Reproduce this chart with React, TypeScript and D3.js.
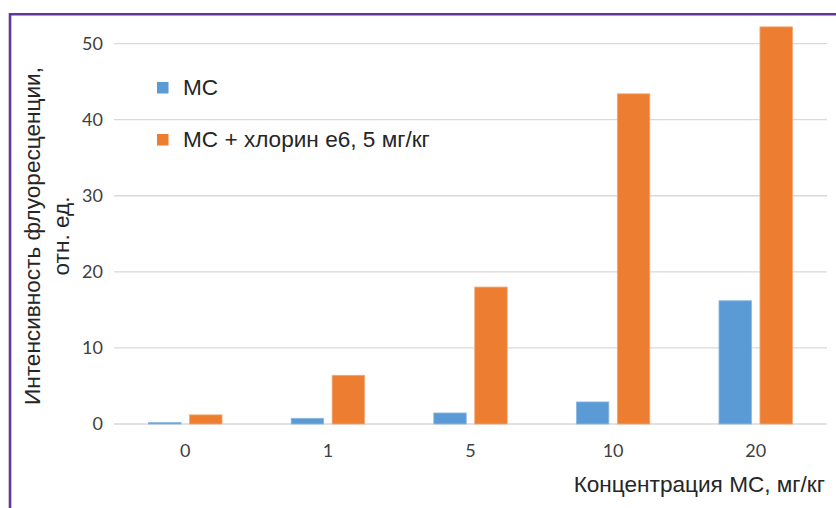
import React from "react";
import * as d3 from "d3";

// Fluorescence intensity by MC concentration
const categories = ["0", "1", "5", "10", "20"];
const seriesNames = ["МС", "МС + хлорин е6, 5 мг/кг"];
const mcValues = [0.2, 0.75, 1.45, 2.9, 16.2];
const mcChlorinValues = [1.2, 6.4, 18.0, 43.4, 52.2];
const yTicks = [0, 10, 20, 30, 40, 50];
const colors = ["#5B9BD5", "#ED7D31"];
const strokes = ["#8DB9E3", "#F4A772"];

const W = 836;
const H = 508;
const plotLeft = 114;
const plotRight = 827;
const yZero = 424;
const yTop = 43.6;

export default function App() {
  const x = d3.scaleBand<string>().domain(categories).range([plotLeft, plotRight]).padding(0);
  const groupW = x.step() * 0.515;
  const sub = d3
    .scaleBand<number>()
    .domain([0, 1])
    .range([-groupW / 2, groupW / 2])
    .paddingInner(0.207);
  const y = d3.scaleLinear().domain([0, 50]).range([yZero, yTop]);

  const series = [mcValues, mcChlorinValues];
  const tickFont = "Lato, 'Liberation Sans', Arial, sans-serif";
  const textFont = "'Liberation Sans', Arial, sans-serif";
  const titleSize = 22.6;

  return (
    <svg
      width={W}
      height={H}
      viewBox={`0 0 ${W} ${H}`}
      style={{ position: "absolute", left: 0, top: 0, background: "#fff" }}
    >
      <rect x={0} y={0} width={W} height={H} fill="#fff" />
      {/* frame */}
      <line x1={10} y1={14.3} x2={W} y2={14.3} stroke="#62369B" strokeWidth={2.6} />
      <line x1={10} y1={13} x2={10} y2={H} stroke="#62369B" strokeWidth={2.6} />

      {/* gridlines */}
      {yTicks.map((t) => (
        <line
          key={`g${t}`}
          x1={plotLeft}
          x2={plotRight}
          y1={y(t)}
          y2={y(t)}
          stroke="#d9d9d9"
          strokeWidth={1.3}
        />
      ))}

      {/* y tick labels */}
      {yTicks.map((t) => (
        <text
          key={`yl${t}`}
          x={103}
          y={y(t)}
          dy="0.36em"
          textAnchor="end"
          fontFamily={tickFont}
          fontSize={18}
          fill="#404040"
        >
          {t}
        </text>
      ))}

      {/* bars */}
      {categories.map((c, i) => {
        const cx = (x(c) as number) + x.bandwidth() / 2;
        return series.map((vals, s) => (
          <rect
            key={`b${c}-${s}`}
            x={cx + (sub(s) as number)}
            y={y(vals[i])}
            width={sub.bandwidth()}
            height={yZero - y(vals[i])}
            fill={colors[s]}
            stroke={strokes[s]}
            strokeWidth={0.8}
          />
        ));
      })}

      {/* x tick labels */}
      {categories.map((c) => (
        <text
          key={`xl${c}`}
          x={(x(c) as number) + x.bandwidth() / 2}
          y={457}
          textAnchor="middle"
          fontFamily={tickFont}
          fontSize={18}
          fill="#404040"
        >
          {c}
        </text>
      ))}

      {/* legend */}
      {seriesNames.map((name, s) => (
        <g key={`lg${s}`} transform={`translate(157, ${82 + s * 52})`}>
          <rect x={0} y={0} width={11.5} height={11.5} fill={colors[s]} />
          <text
            x={26}
            y={13}
            fontFamily={textFont}
            fontSize={titleSize}
            fill="#262626"
          >
            {name}
          </text>
        </g>
      ))}

      {/* axis titles */}
      <text
        transform={`translate(40, 236) rotate(-90)`}
        textAnchor="middle"
        fontFamily={textFont}
        fontSize={titleSize}
        fill="#262626"
      >
        Интенсивность флуоресценции,
      </text>
      <text
        transform={`translate(69, 236) rotate(-90)`}
        textAnchor="middle"
        fontFamily={textFont}
        fontSize={titleSize}
        fill="#262626"
      >
        отн. ед.
      </text>
      <text
        x={825}
        y={492}
        textAnchor="end"
        fontFamily={textFont}
        fontSize={titleSize}
        fill="#262626"
      >
        Концентрация МС, мг/кг
      </text>
    </svg>
  );
}
